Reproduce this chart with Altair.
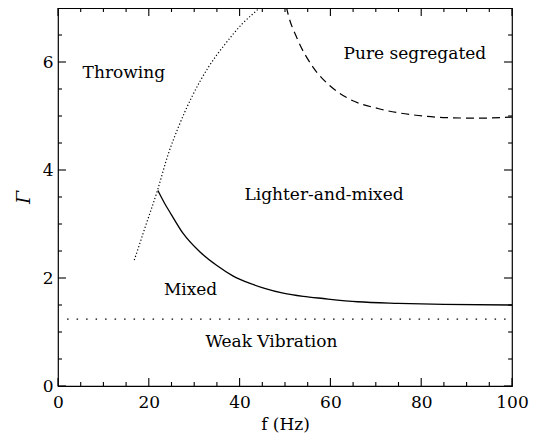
import altair as alt
import pandas as pd

# Throwing boundary (dotted curve)
throw_f = [16.8, 19.2, 21.9, 24.3, 26.5, 29.4, 33.1, 36.8, 40.5, 44.1, 44.6]
throw_g = [2.33, 2.94, 3.62, 4.30, 4.79, 5.34, 5.90, 6.33, 6.70, 6.98, 7.02]

# Pure-segregated boundary (dashed curve)
seg_f = [50.3, 50.7, 52.6, 56.2, 59.9, 63.6, 70.9, 78.3, 85.6, 93.0, 100.0]
seg_g = [7.02, 6.88, 6.45, 5.90, 5.56, 5.34, 5.13, 5.02, 4.97, 4.96, 4.98]

# Mixed / lighter-and-mixed boundary (solid curve)
mix_f = [22.0, 23.5, 25.0, 27.6, 31.3, 35.0, 38.5, 42.3, 45.5, 49.6, 54.0, 58.4, 66.0, 75.0, 85.0, 100.0]
mix_g = [3.62, 3.38, 3.17, 2.82, 2.48, 2.23, 2.04, 1.90, 1.81, 1.72, 1.66, 1.62, 1.56, 1.53, 1.51, 1.50]

# Weak vibration threshold (dotted horizontal)
weak_f = [2.0, 100.0]
weak_g = [1.24, 1.24]

# Region labels
labels = ["Throwing", "Pure segregated", "Lighter-and-mixed", "Mixed", "Weak Vibration"]
lab_f = [14.5, 78.6, 58.6, 29.2, 47.0]
lab_g = [5.80, 6.15, 3.54, 1.78, 0.81]

# Axis ticks
x_major = [0, 20, 40, 60, 80, 100]
x_minor = [5, 10, 15, 25, 30, 35, 45, 50, 55, 65, 70, 75, 85, 90, 95]
y_major = [0, 2, 4, 6]
y_minor = [0.5, 1, 1.5, 2.5, 3, 3.5, 4.5, 5, 5.5, 6.5]

W, H = 454, 378
FONT = "DejaVu Serif"

xs = alt.Scale(domain=[0, 100], nice=False, zero=False)
ys = alt.Scale(domain=[0, 7], nice=False, zero=False)

X_AX = alt.Axis(
    values=x_major, ticks=False, domain=False, grid=False, labelFlush=False,
    labelFont=FONT, labelFontSize=17, labelColor="black", labelPadding=8,
    title="f (Hz)", titleFont=FONT, titleFontSize=17, titleFontWeight="normal",
    titleColor="black", titlePadding=6,
)
Y_AX = alt.Axis(
    values=y_major, ticks=False, domain=False, grid=False, labelFlush=False,
    labelFont=FONT, labelFontSize=17, labelColor="black", labelPadding=5,
    title="Γ", titleFont=FONT, titleFontSize=19, titleFontStyle="italic",
    titleFontWeight="normal", titleColor="black", titlePadding=9,
)


def line_layer(fv, gv, dash, width=1.2):
    df = pd.DataFrame({"f": fv, "g": gv})
    kw = dict(color="black", strokeWidth=width, clip=True, interpolate="monotone")
    if dash:
        kw["strokeDash"] = dash
    return alt.Chart(df).mark_line(**kw).encode(
        x=alt.X("f:Q", scale=xs, axis=X_AX),
        y=alt.Y("g:Q", scale=ys, axis=Y_AX),
        order=alt.Order("f:Q"),
    )


def xtick_layer(vals, length, side):
    df = pd.DataFrame({"v": vals})
    if side == "bottom":
        yy, yy2 = H, H - length
    else:
        yy, yy2 = 0, length
    return alt.Chart(df).mark_rule(color="black", strokeWidth=1.1).encode(
        x=alt.X("v:Q", scale=xs, axis=X_AX),
        y=alt.value(yy),
        y2=alt.value(yy2),
    )


def ytick_layer(vals, length, side):
    df = pd.DataFrame({"v": vals})
    if side == "left":
        xx, xx2 = 0, length
    else:
        xx, xx2 = W, W - length
    return alt.Chart(df).mark_rule(color="black", strokeWidth=1.1).encode(
        y=alt.Y("v:Q", scale=ys, axis=Y_AX),
        x=alt.value(xx),
        x2=alt.value(xx2),
    )


text_df = pd.DataFrame({"label": labels, "f": lab_f, "g": lab_g})
texts = alt.Chart(text_df).mark_text(
    font=FONT, fontSize=17, color="black", align="center", baseline="middle"
).encode(
    x=alt.X("f:Q", scale=xs, axis=X_AX),
    y=alt.Y("g:Q", scale=ys, axis=Y_AX),
    text="label:N",
)

chart = alt.layer(
    line_layer(weak_f, weak_g, [1.5, 8.0], 1.3),
    line_layer(throw_f, throw_g, [1.2, 2.2], 1.2),
    line_layer(seg_f, seg_g, [8, 5], 1.2),
    line_layer(mix_f, mix_g, None, 1.3),
    xtick_layer(x_major, 8, "bottom"),
    xtick_layer(x_minor, 4, "bottom"),
    xtick_layer(x_major, 8, "top"),
    xtick_layer(x_minor, 4, "top"),
    ytick_layer(y_major, 8, "left"),
    ytick_layer(y_minor, 4, "left"),
    ytick_layer(y_major, 8, "right"),
    ytick_layer(y_minor, 4, "right"),
    texts,
).properties(
    width=W,
    height=H,
    background="white",
    padding={"left": 50, "top": 0, "right": 20, "bottom": 50},
    autosize=alt.AutoSizeParams(type="none"),
).configure_view(
    stroke="black", strokeWidth=1.2
)

chart.save("out.html", embed_options={"renderer": "svg", "actions": False})
